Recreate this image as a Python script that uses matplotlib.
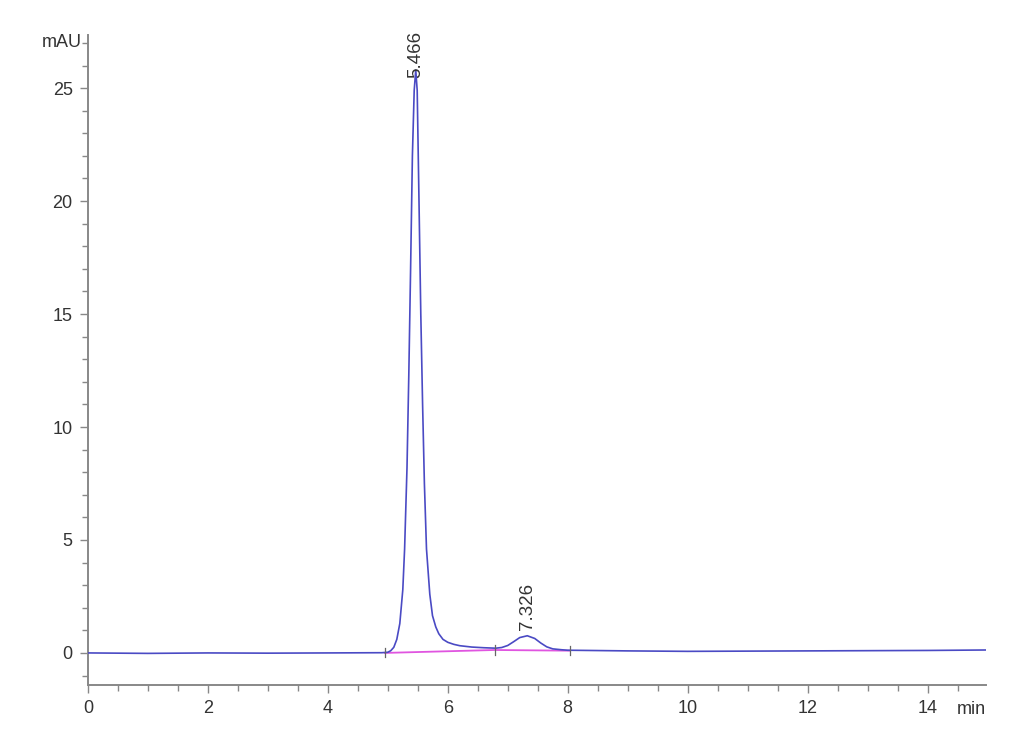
import matplotlib
matplotlib.use("Agg")
import matplotlib.pyplot as plt
from matplotlib.ticker import MultipleLocator

# Chromatogram signal (time in min, signal in mAU)
time_min = [0.0, 1.0, 2.0, 3.0, 4.0, 4.9, 5.0, 5.05, 5.1, 5.15, 5.2, 5.25, 5.28,
            5.32, 5.35, 5.38, 5.41, 5.44, 5.466, 5.49, 5.52, 5.55, 5.58, 5.61,
            5.645, 5.7, 5.745, 5.8, 5.85, 5.92, 6.0, 6.1, 6.2, 6.4, 6.6, 6.8,
            6.9, 7.0, 7.1, 7.2, 7.326, 7.45, 7.55, 7.65, 7.75, 7.9, 8.0, 9.0,
            10.0, 11.0, 12.0, 13.0, 14.0, 14.97]
signal_mau = [0.0, -0.02, 0.0, -0.01, 0.0, 0.01, 0.03, 0.1, 0.25, 0.6, 1.3, 2.8, 4.6,
              8.2, 12.3, 17.0, 22.0, 24.9, 25.8, 24.9, 20.0, 15.0, 11.0, 7.5,
              4.6, 2.6, 1.65, 1.15, 0.85, 0.6, 0.47, 0.38, 0.32, 0.26, 0.23, 0.21,
              0.24, 0.33, 0.5, 0.68, 0.76, 0.64, 0.44, 0.27, 0.18, 0.14, 0.12, 0.09,
              0.07, 0.08, 0.09, 0.1, 0.11, 0.13]

# Integration baseline (pink) and peak delimiters
base_t = [4.95, 6.78, 8.03]
base_v = [0.0, 0.13, 0.1]

peak_times = [5.466, 7.326]
peak_heights = [25.8, 0.76]
peak_labels = ["5.466", "7.326"]

x_major = [0, 2, 4, 6, 8, 10, 12, 14]
y_major = [0, 5, 10, 15, 20, 25]

plt.rcParams['font.family'] = ['Liberation Sans Narrow', 'Liberation Sans', 'DejaVu Sans']

fig = plt.figure(figsize=(10.3, 7.55), dpi=100)
ax = fig.add_axes([0.0854, 0.0927, 0.957 - 0.0854, 0.9536 - 0.0927])

ax.plot(time_min, signal_mau, color='#4a4ac4', lw=1.2, zorder=3)
ax.plot(base_t, base_v, color='#e055e0', lw=1.3, zorder=2)
for t, v in zip(base_t, base_v):
    ax.plot([t, t], [v - 0.2, v + 0.2], color='#666666', lw=0.9, zorder=4)

ax.text(peak_times[0], peak_heights[0] - 0.35, peak_labels[0], rotation=90,
        ha='center', va='bottom', fontsize=13.5, color='#333333')
ax.text(peak_times[1], peak_heights[1] + 0.25, peak_labels[1], rotation=90,
        ha='center', va='bottom', fontsize=13.5, color='#333333')

ax.set_xlim(0, 14.97)
ax.set_ylim(-1.42, 27.35)

ax.set_xticks(x_major)
ax.set_yticks(y_major)
ax.xaxis.set_minor_locator(MultipleLocator(0.5))
ax.yaxis.set_minor_locator(MultipleLocator(1))

for s in ['top', 'right']:
    ax.spines[s].set_visible(False)
for s in ['left', 'bottom']:
    ax.spines[s].set_color('#888888')
    ax.spines[s].set_linewidth(1.4)

ax.tick_params(axis='both', which='major', length=6, width=1, color='#888888',
               labelsize=13, labelcolor='#333333')
ax.tick_params(axis='both', which='minor', length=4, width=1, color='#888888')
ax.tick_params(axis='x', pad=5)
ax.tick_params(axis='y', pad=5)

ax.text(-0.1, 27.0, "mAU", ha='right', va='center', fontsize=13,
        color='#333333', transform=ax.transData)
ax.text(1.0, -0.025, "min", ha='right', va='top', fontsize=13,
        color='#333333', transform=ax.transAxes)

fig.savefig("out.png", dpi=100, facecolor='white')
